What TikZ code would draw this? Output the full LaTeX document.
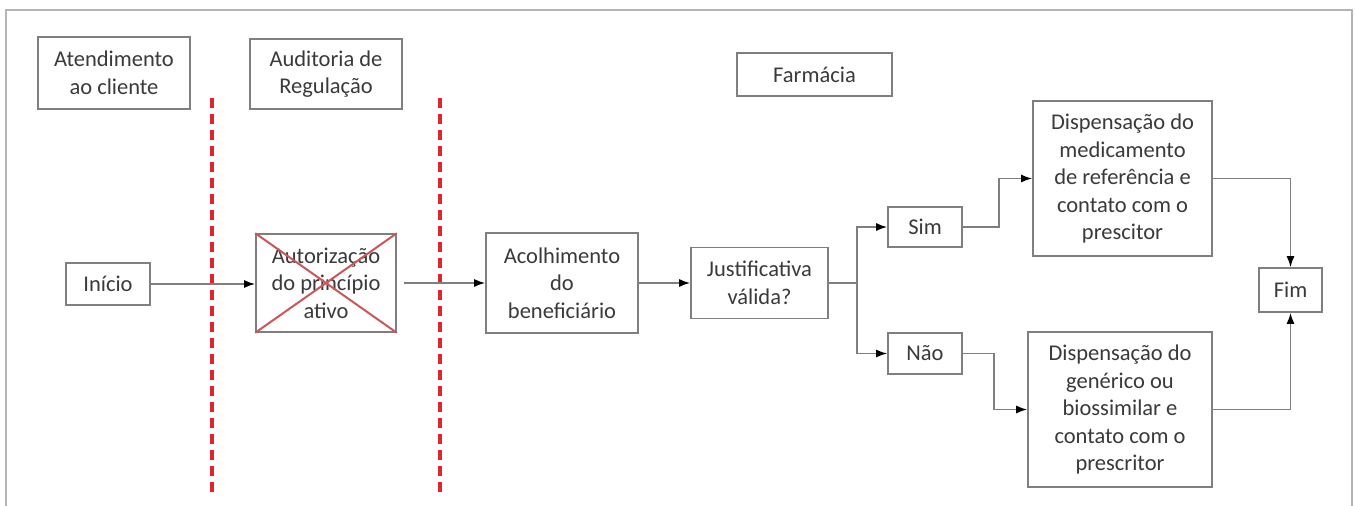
\documentclass[tikz,border=0pt]{standalone}
\usepackage{fontspec}
\setmainfont{Carlito}
\usetikzlibrary{arrows.meta}
\definecolor{boxgray}{HTML}{7F7F7F}
\definecolor{txtgray}{HTML}{3A3A3A}
\definecolor{framegray}{HTML}{B4B4B4}
\definecolor{dashred}{HTML}{E0262B}
\definecolor{xred}{HTML}{C9585C}
\tikzset{
  box/.style={draw=boxgray, line width=1.6pt, fill=white, align=center, text=txtgray,
    inner sep=2pt, font=\fontsize{22.5}{27.5}\selectfont},
  conn/.style={draw=boxgray, line width=1.6pt, -{Latex[length=11pt,width=8pt,color=black]}},
  plain/.style={draw=boxgray, line width=1.6pt},
  lane/.style={draw=dashred, line width=3.8pt, dash pattern=on 10pt off 6pt},
}
\begin{document}
\begin{tikzpicture}[x=1pt,y=-1pt]
\useasboundingbox (0,0) rectangle (1355,506);
\draw[framegray, line width=1.2pt] (6,506) -- (6,10) -- (1352,10) -- (1352,506);
% lane separators
\coordinate (l1t) at (212,98); \coordinate (l1b) at (212,492);
\coordinate (l2t) at (440,98); \coordinate (l2b) at (440,492);
\draw[lane] (l1t) -- (l1b);
\draw[lane] (l2t) -- (l2b);
% lane headers
\node[box, minimum width=152pt, minimum height=72pt] (atend) at (114,73) {Atendimento\\ao cliente};
\node[box, minimum width=152pt, minimum height=70pt] (audit) at (326,74) {Auditoria de\\Regulação};
\node[box, minimum width=155pt, minimum height=43pt] (farm) at (814.5,74.5) {Farmácia};
% process
\node[box, minimum width=84pt, minimum height=42pt] (inicio) at (108,284) {Início};
\node[box, minimum width=140pt, minimum height=98pt] (autor) at (326,283) {Autorização\\do princípio\\ativo};
\draw[xred, line width=2pt] (autor.north west) -- (autor.south east);
\draw[xred, line width=2pt] (autor.north east) -- (autor.south west);
\node[box, minimum width=152pt, minimum height=100pt] (acolh) at (562,283) {Acolhimento\\do\\beneficiário};
\node[box, minimum width=137pt, minimum height=71pt] (just) at (759.5,283) {Justificativa\\válida?};
\node[box, minimum width=74pt, minimum height=40pt] (sim) at (925,227) {Sim};
\node[box, minimum width=74pt, minimum height=41pt] (nao) at (925,353.5) {Não};
\node[box, minimum width=179pt, minimum height=155pt] (disp1) at (1122.5,178.5) {Dispensação do\\medicamento\\de referência e\\contato com o\\prescitor};
\node[box, minimum width=184pt, minimum height=155pt] (disp2) at (1120,409.5) {Dispensação do\\genérico ou\\biossimilar e\\contato com o\\prescritor};
\node[box, minimum width=63pt, minimum height=44pt] (fim) at (1290.5,290) {Fim};
% connectors
\draw[conn] (inicio.east) -- (autor.west |- inicio.east);
\draw[conn] ([xshift=7pt]autor.east) -- (acolh.west);
\draw[conn] (acolh.east) -- (just.west);
\coordinate (split) at (857,283);
\draw[plain] (just.east) -- (split);
\draw[conn] (split) |- (sim.west);
\draw[conn] (split) |- (nao.west);
\draw[conn] (sim.east) -- ++(36,0) |- (disp1.west);
\draw[conn] (nao.east) -- ++(31,0) |- (disp2.west);
\draw[conn] (disp1.east) -| (fim.north);
\draw[conn] (disp2.east) -| (fim.south);
\end{tikzpicture}
\end{document}
